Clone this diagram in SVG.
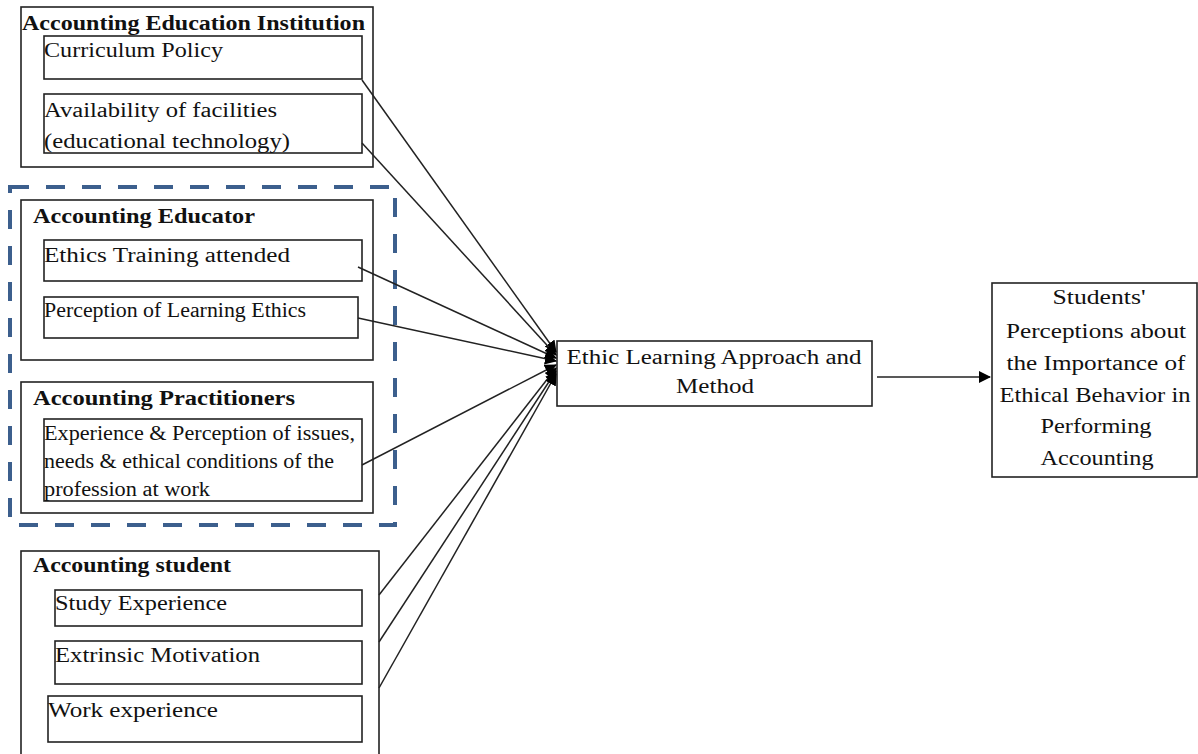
<svg xmlns="http://www.w3.org/2000/svg" width="1198" height="754" viewBox="0 0 1198 754">
<defs>
<style>
.box{fill:#fff;stroke:#222;stroke-width:1.6}
.t{font-family:'Liberation Serif','Times New Roman',Tinos,Times,serif;font-size:20px;fill:#111}
.b{font-family:'Liberation Serif','Times New Roman',Tinos,Times,serif;font-size:20px;font-weight:bold;fill:#111}
.c{text-anchor:middle}
.ln{stroke:#222;stroke-width:1.5;fill:none}
</style>
<marker id="ah" markerWidth="12" markerHeight="12" refX="11" refY="6" orient="auto" markerUnits="userSpaceOnUse">
<path d="M0,0 L12,6 L0,12 z" fill="#000"/>
</marker>
<marker id="ah2" markerWidth="12" markerHeight="12" refX="11" refY="6" orient="auto" markerUnits="userSpaceOnUse">
<path d="M0,0 L12,6 L0,12 z" fill="#000"/>
</marker>
</defs>
<rect width="1198" height="754" fill="#fff"/>

<g id="institution">
<rect class="box" x="21" y="7" width="352" height="160"/>
<text class="b" x="22" y="30" textLength="343" lengthAdjust="spacingAndGlyphs">Accounting Education Institution</text>
<rect class="box" x="44" y="36" width="318" height="43"/>
<text class="t" x="44" y="57" textLength="179" lengthAdjust="spacingAndGlyphs">Curriculum  Policy</text>
<rect class="box" x="44" y="94" width="318" height="59"/>
<text class="t" x="44" y="117" textLength="233" lengthAdjust="spacingAndGlyphs">Availability of facilities</text>
<text class="t" x="44" y="148" textLength="246" lengthAdjust="spacingAndGlyphs">(educational technology)</text>
</g>

<g id="dashed-group">
<rect x="10" y="187" width="385" height="338" fill="none" stroke="#3C5F8D" stroke-width="4" stroke-dasharray="19 17"/>
</g>

<g id="educator">
<rect class="box" x="21" y="200" width="352" height="160"/>
<text class="b" x="33" y="223" textLength="222" lengthAdjust="spacingAndGlyphs">Accounting Educator</text>
<rect class="box" x="44" y="240" width="318" height="41"/>
<text class="t" x="44" y="262" textLength="246" lengthAdjust="spacingAndGlyphs">Ethics Training attended</text>
<rect class="box" x="44" y="297" width="314" height="41"/>
<text class="t" x="44" y="317" font-size="18" textLength="262" lengthAdjust="spacingAndGlyphs">Perception of Learning  Ethics</text>
</g>

<g id="practitioners">
<rect class="box" x="21" y="382" width="352" height="131"/>
<text class="b" x="33" y="405" textLength="262" lengthAdjust="spacingAndGlyphs">Accounting Practitioners</text>
<rect class="box" x="44" y="419" width="318" height="82"/>
<text class="t" x="44" y="440" font-size="18" textLength="311" lengthAdjust="spacingAndGlyphs">Experience  &amp; Perception  of issues,</text>
<text class="t" x="44" y="468" font-size="18" textLength="290" lengthAdjust="spacingAndGlyphs">needs &amp; ethical  conditions  of the</text>
<text class="t" x="44" y="496" font-size="18" textLength="166" lengthAdjust="spacingAndGlyphs">profession at work</text>
</g>

<g id="student">
<rect class="box" x="21" y="551" width="358" height="210"/>
<text class="b" x="33" y="572" textLength="198" lengthAdjust="spacingAndGlyphs">Accounting student</text>
<rect class="box" x="55" y="590" width="307" height="36"/>
<text class="t" x="55" y="610" textLength="172" lengthAdjust="spacingAndGlyphs">Study Experience</text>
<rect class="box" x="55" y="641" width="307" height="43"/>
<text class="t" x="55" y="662" textLength="205" lengthAdjust="spacingAndGlyphs">Extrinsic Motivation</text>
<rect class="box" x="48" y="696" width="314" height="46"/>
<text class="t" x="48" y="717" textLength="170" lengthAdjust="spacingAndGlyphs">Work  experience</text>
</g>

<g id="ethic-learning">
<rect class="box" x="557" y="341" width="315" height="65"/>
<text class="t c" x="714" y="364" textLength="295" lengthAdjust="spacingAndGlyphs">Ethic Learning Approach and</text>
<text class="t c" x="715" y="393" textLength="78" lengthAdjust="spacingAndGlyphs">Method</text>
</g>

<g id="outcome">
<rect class="box" x="992" y="283" width="205" height="194"/>
<text class="t c" x="1099" y="304" textLength="93" lengthAdjust="spacingAndGlyphs">Students'</text>
<text class="t c" x="1096" y="338" textLength="180" lengthAdjust="spacingAndGlyphs">Perceptions about</text>
<text class="t c" x="1096" y="370" textLength="179" lengthAdjust="spacingAndGlyphs">the Importance of</text>
<text class="t c" x="1095" y="402" textLength="191" lengthAdjust="spacingAndGlyphs">Ethical Behavior in</text>
<text class="t c" x="1096" y="433" textLength="111" lengthAdjust="spacingAndGlyphs">Performing</text>
<text class="t c" x="1097" y="465" textLength="113" lengthAdjust="spacingAndGlyphs">Accounting</text>
</g>

<g id="connectors">
<line class="ln" x1="362" y1="80" x2="556" y2="352" marker-end="url(#ah)"/>
<line class="ln" x1="362" y1="143" x2="556" y2="355" marker-end="url(#ah)"/>
<line class="ln" x1="358" y1="267" x2="556" y2="358" marker-end="url(#ah)"/>
<line class="ln" x1="358" y1="318" x2="556" y2="361" marker-end="url(#ah)"/>
<line class="ln" x1="362" y1="465" x2="556" y2="365" marker-end="url(#ah)"/>
<line class="ln" x1="379" y1="595" x2="556" y2="368" marker-end="url(#ah)"/>
<line class="ln" x1="379" y1="642" x2="556" y2="371" marker-end="url(#ah)"/>
<line class="ln" x1="379" y1="688" x2="556" y2="374" marker-end="url(#ah)"/>
<line class="ln" x1="877" y1="377" x2="990" y2="377" marker-end="url(#ah2)"/>
</g>
</svg>
